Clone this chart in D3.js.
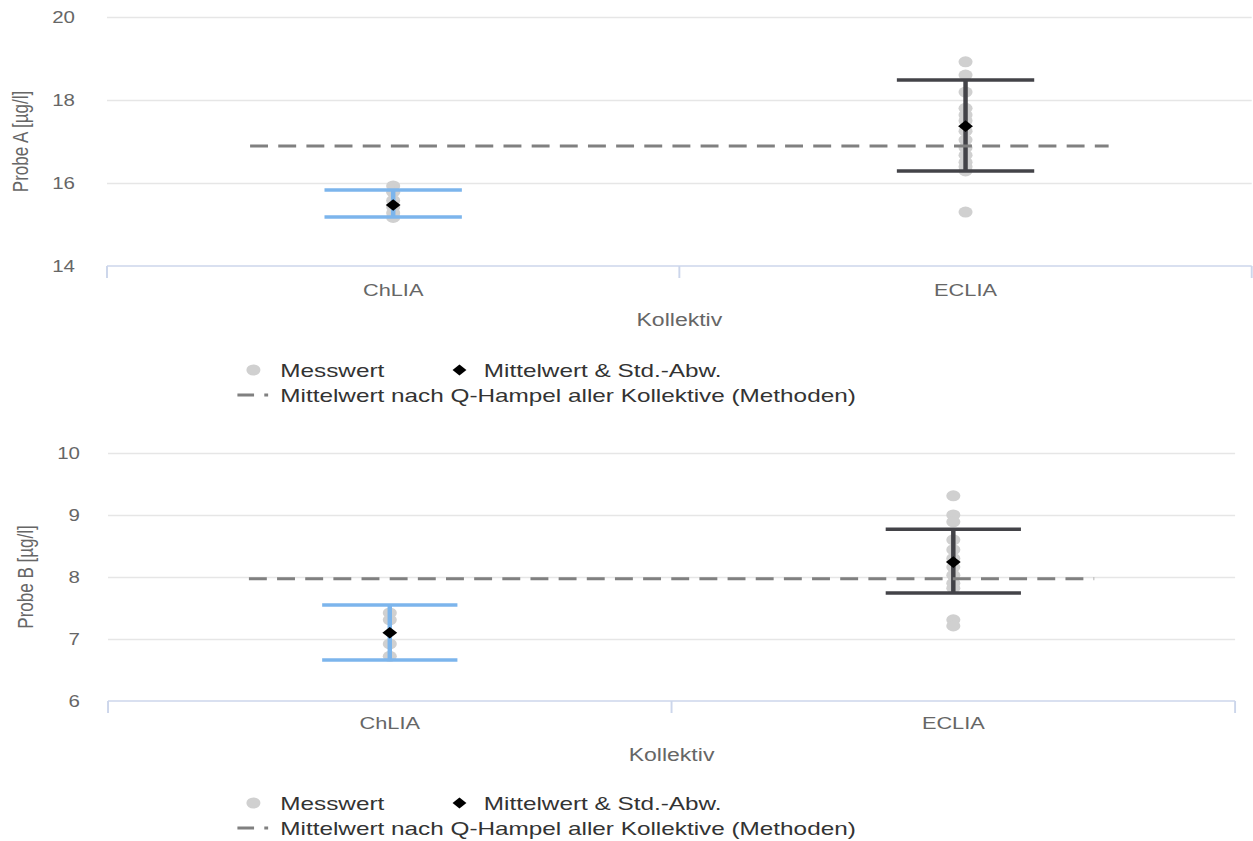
<!DOCTYPE html>
<html>
<head>
<meta charset="utf-8">
<script src="https://cdn.jsdelivr.net/npm/d3@7"></script>
<style>
  html, body { margin: 0; padding: 0; background: #ffffff; }
  svg { display: block; font-family: "Liberation Sans", Arial, sans-serif; }
</style>
</head>
<body>
<svg id="chart" width="1253" height="841" viewBox="0 0 979 841" preserveAspectRatio="none"></svg>
<script>
// ---------------- data ----------------
const categories = ["ChLIA", "ECLIA"];

// Probe A
const probeA_ChLIA_values = [15.93, 15.78, 15.58, 15.42, 15.28, 15.17];
const probeA_ECLIA_values = [18.92, 18.6, 18.19, 17.8, 17.64, 17.5, 17.25, 17.04, 16.85, 16.67, 16.5, 16.39, 16.29, 15.3];
const probeA_mean = [15.47, 17.37];
const probeA_low  = [15.18, 16.29];
const probeA_high = [15.83, 18.48];
const probeA_hampel = 16.89;
const probeA_ticks = [14, 16, 18, 20];

// Probe B
const probeB_ChLIA_values = [7.42, 7.31, 6.92, 6.72];
const probeB_ECLIA_values = [9.31, 9.0, 8.89, 8.6, 8.44, 8.3, 8.16, 8.03, 7.9, 7.82, 7.31, 7.21];
const probeB_mean = [7.10, 8.24];
const probeB_low  = [6.66, 7.74];
const probeB_high = [7.55, 8.77];
const probeB_hampel = 7.97;
const probeB_ticks = [6, 7, 8, 9, 10];

const axisTitles = ["Probe A [µg/l]", "Probe B [µg/l]"];
const xAxisTitle = "Kollektiv";
const legendLabels = ["Messwert", "Mittelwert & Std.-Abw.", "Mittelwert nach Q-Hampel aller Kollektive (Methoden)"];
const errorColors = ["#7cb5ec", "#434348"];

// ---------------- drawing ----------------
const svg = d3.select("#chart");

function drawPanel(p) {
  const g = svg.append("g");
  const x = d3.scaleBand().domain(categories).range([p.left, p.right]).padding(0);
  const y = d3.scaleLinear().domain([p.ticks[0], p.ticks[p.ticks.length - 1]]).range([p.bottom, p.top]);
  const bw = x.bandwidth();
  const cx = c => x(c) + bw / 2;

  // gridlines
  const grid = g.append("g").attr("transform", `translate(${p.left},0)`)
    .call(d3.axisLeft(y).tickValues(p.ticks.slice(1)).tickSize(-(p.right - p.left)).tickFormat(""));
  grid.select(".domain").remove();
  grid.selectAll(".tick line").attr("stroke", "#e6e6e6").attr("stroke-width", 1.5);

  // y tick labels
  const yl = g.append("g").attr("transform", `translate(${p.labelRight},0)`)
    .call(d3.axisLeft(y).tickValues(p.ticks).tickSize(0).tickPadding(0).tickFormat(d3.format("d")));
  yl.select(".domain").remove();
  yl.selectAll("text").attr("fill", "#666666").attr("font-size", 16)
    .attr("font-family", "Liberation Sans, Arial, sans-serif");

  // y title
  g.append("text")
    .attr("transform", `translate(${p.titleX},${(p.top + p.bottom) / 2}) rotate(-90)`)
    .attr("text-anchor", "middle").attr("dy", "0.35em")
    .attr("fill", "#666666").attr("font-size", 17)
    .text(p.title);

  // x axis
  const xa = g.append("g").attr("transform", `translate(0,${p.bottom})`)
    .call(d3.axisBottom(x).tickSize(0).tickPadding(0));
  xa.select(".domain").remove();
  xa.selectAll("text").attr("fill", "#666666").attr("font-size", 17)
    .attr("font-family", "Liberation Sans, Arial, sans-serif")
    .attr("y", p.catY - p.bottom).attr("dy", "0.35em");
  g.append("line").attr("x1", p.left).attr("x2", p.right).attr("y1", p.bottom).attr("y2", p.bottom)
    .attr("stroke", "#ccd6eb").attr("stroke-width", 1.5);
  const bounds = categories.map(c => x(c)).concat([x.range()[1]]);
  g.selectAll(".xtick").data(bounds).enter().append("line")
    .attr("x1", d => d).attr("x2", d => d).attr("y1", p.bottom).attr("y2", p.bottom + 12)
    .attr("stroke", "#ccd6eb").attr("stroke-width", 1.5);
  g.append("text").attr("x", (p.left + p.right) / 2).attr("y", p.kollY).attr("dy", "0.35em")
    .attr("text-anchor", "middle").attr("fill", "#666666").attr("font-size", 18).text(xAxisTitle);

  // points
  p.values.forEach((vals, i) => {
    g.selectAll(null).data(vals).enter().append("circle")
      .attr("cx", cx(categories[i])).attr("cy", d => y(d)).attr("r", 5.5)
      .attr("fill", "#d0d0d0");
  });

  // error bars
  categories.forEach((c, i) => {
    const half = bw * 0.12;
    const col = errorColors[i];
    g.append("line").attr("x1", cx(c)).attr("x2", cx(c)).attr("y1", y(p.low[i])).attr("y2", y(p.high[i]))
      .attr("stroke", col).attr("stroke-width", 3.5);
    [p.low[i], p.high[i]].forEach(v => {
      g.append("line").attr("x1", cx(c) - half).attr("x2", cx(c) + half).attr("y1", y(v)).attr("y2", y(v))
        .attr("stroke", col).attr("stroke-width", 3.5);
    });
  });

  // hampel dashed line
  g.append("line")
    .attr("x1", cx(categories[0]) - bw * 0.25).attr("x2", cx(categories[1]) + bw * 0.25)
    .attr("y1", y(p.hampel)).attr("y2", y(p.hampel))
    .attr("stroke", "#808080").attr("stroke-width", 3).attr("stroke-dasharray", "14,8");

  // mean diamonds
  const diamond = d3.symbol().type(d3.symbolDiamond2).size(85);
  categories.forEach((c, i) => {
    g.append("path").attr("d", diamond())
      .attr("transform", `translate(${cx(c)},${y(p.mean[i])})`).attr("fill", "#000000");
  });

  // legend
  const lg = g.append("g").attr("font-size", 19).attr("fill", "#333333");
  lg.append("circle").attr("cx", 198).attr("cy", p.leg1).attr("r", 5.5).attr("fill", "#d0d0d0");
  lg.append("text").attr("x", 219).attr("y", p.leg1).attr("dy", "0.35em").text(legendLabels[0]);
  lg.append("path").attr("d", d3.symbol().type(d3.symbolDiamond2).size(75)())
    .attr("transform", `translate(359,${p.leg1})`).attr("fill", "#000000");
  lg.append("text").attr("x", 378).attr("y", p.leg1).attr("dy", "0.35em").text(legendLabels[1]);
  lg.append("line").attr("x1", 185.5).attr("x2", 210).attr("y1", p.leg2).attr("y2", p.leg2)
    .attr("stroke", "#808080").attr("stroke-width", 3).attr("stroke-dasharray", "13,8,3,20");
  lg.append("text").attr("x", 219).attr("y", p.leg2).attr("dy", "0.35em").text(legendLabels[2]);
}

drawPanel({
  left: 83.6, right: 978, top: 17, bottom: 266, labelRight: 58.6, titleX: 15.6,
  catY: 290, kollY: 320, leg1: 370, leg2: 395,
  ticks: probeA_ticks, title: axisTitles[0],
  values: [probeA_ChLIA_values, probeA_ECLIA_values],
  mean: probeA_mean, low: probeA_low, high: probeA_high, hampel: probeA_hampel
});

drawPanel({
  left: 84.4, right: 965, top: 453, bottom: 701, labelRight: 62.5, titleX: 19.5,
  catY: 723, kollY: 755, leg1: 803, leg2: 828,
  ticks: probeB_ticks, title: axisTitles[1],
  values: [probeB_ChLIA_values, probeB_ECLIA_values],
  mean: probeB_mean, low: probeB_low, high: probeB_high, hampel: probeB_hampel
});
</script>
</body>
</html>
